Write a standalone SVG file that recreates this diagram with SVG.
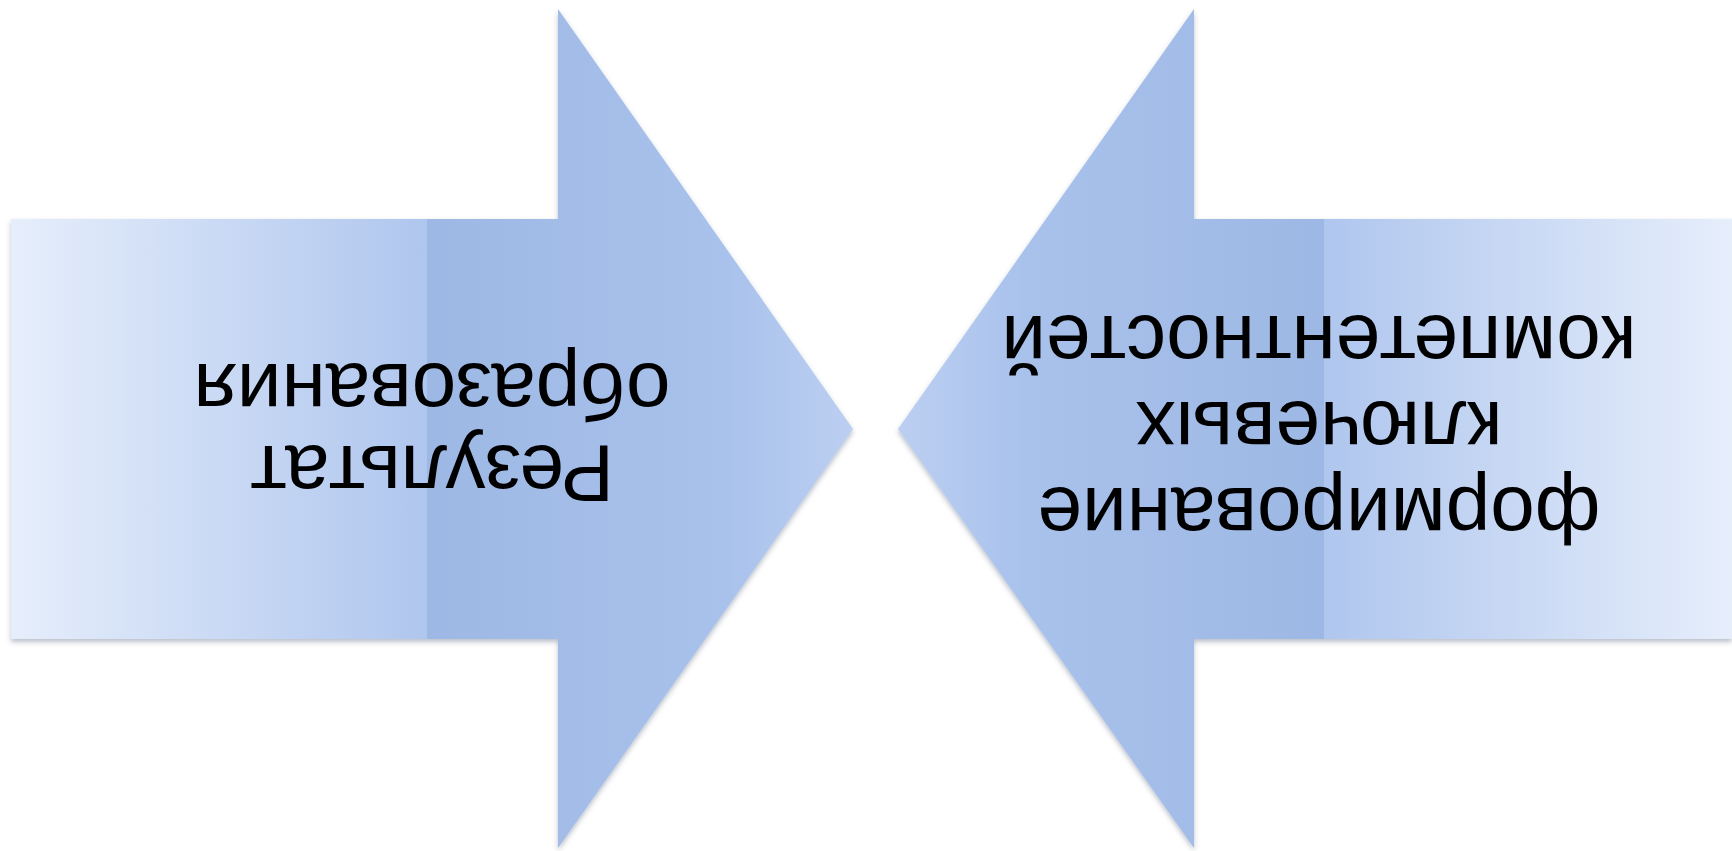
<svg xmlns="http://www.w3.org/2000/svg" width="1732" height="851" viewBox="0 0 1732 851">
<style>
.lbl{font-family:"Liberation Sans",Arial,sans-serif;font-size:80px;fill:#000;text-anchor:middle}
</style>
<defs>
<linearGradient id="gL" gradientUnits="userSpaceOnUse" x1="11" y1="0" x2="853" y2="0">
<stop offset="0" stop-color="#e6eefb"/>
<stop offset="0.494" stop-color="#afc6ee"/>
<stop offset="0.494" stop-color="#9db8e4"/>
<stop offset="0.85" stop-color="#a9c2ec"/>
<stop offset="1" stop-color="#bccff1"/>
</linearGradient>
<linearGradient id="gR" gradientUnits="userSpaceOnUse" x1="1732" y1="0" x2="898" y2="0">
<stop offset="0" stop-color="#e6eefb"/>
<stop offset="0.489" stop-color="#afc6ee"/>
<stop offset="0.489" stop-color="#9db8e4"/>
<stop offset="0.85" stop-color="#a9c2ec"/>
<stop offset="1" stop-color="#bccff1"/>
</linearGradient>
<filter id="sh" x="-5%" y="-5%" width="110%" height="110%">
<feDropShadow dx="0" dy="3" stdDeviation="2.5" flood-color="#3a4a66" flood-opacity="0.35"/>
</filter>
</defs>
<rect width="1732" height="851" fill="#fff"/>
<g id="arrow-left">
<path d="M11,219 H558 V9 L853,429 L558,848 V639 H11 Z" fill="url(#gL)" filter="url(#sh)"/>
<text class="lbl" transform="rotate(180 432 429)"><tspan x="432" y="412">Результат</tspan><tspan x="432" y="494">образования</tspan></text>
</g>
<g id="arrow-right">
<path d="M1732,219 H1194 V9 L898,429 L1194,848 V639 H1732 Z" fill="url(#gR)" filter="url(#sh)"/>
<text class="lbl" transform="rotate(180 1319 429)"><tspan x="1319" y="370">формирование</tspan><tspan x="1319" y="456">ключевых</tspan><tspan x="1319" y="542">компетентностей</tspan></text>
</g>
<g id="connectors"/>
</svg>
